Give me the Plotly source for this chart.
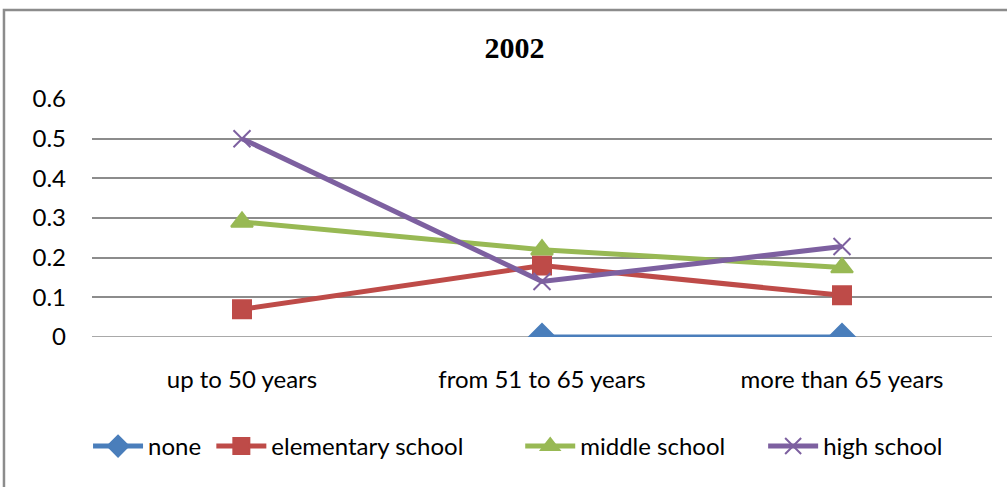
import plotly.graph_objects as go

categories = ["up to 50 years", "from 51 to 65 years", "more than 65 years"]
none_vals = [None, 0.0, 0.0]
elementary_vals = [0.07, 0.18, 0.105]
middle_vals = [0.29, 0.22, 0.175]
high_vals = [0.5, 0.14, 0.228]
y_ticks = [0, 0.1, 0.2, 0.3, 0.4, 0.5, 0.6]
y_tick_labels = ["0", "0.1", "0.2", "0.3", "0.4", "0.5", "0.6"]

# name, values, colour, marker symbol, marker size, legend id, legend x (paper)
series = [
    ("none", none_vals, "#4A7EBB", "diamond", 20, "legend", -0.0044),
    ("elementary school", elementary_vals, "#BE4B48", "square", 18, "legend2", 0.1326),
    ("middle school", middle_vals, "#98B954", "triangle-up", 19, "legend3", 0.4758),
    ("high school", high_vals, "#7D60A0", "x-thin-open", 17, "legend4", 0.7457),
]

font_main = "Lato, 'Open Sans', sans-serif"

fig = go.Figure()
legends = {}
for name, vals, color, symbol, size, leg, lx in series:
    fig.add_trace(go.Scatter(
        x=categories, y=vals, name=name, mode="lines+markers",
        line=dict(color=color, width=5),
        marker=dict(symbol=symbol, size=size, color=color,
                    line=dict(color=color, width=2)),
        connectgaps=False, legend=leg,
    ))
    legends[leg] = dict(orientation="h", x=lx, xanchor="left", y=-0.46, yanchor="middle",
                        font=dict(family=font_main, size=24, color="black"),
                        itemwidth=50, bgcolor="rgba(0,0,0,0)")

fig.update_layout(
    width=1007, height=487,
    margin=dict(l=92, r=15, t=99, b=150, autoexpand=False),
    paper_bgcolor="white", plot_bgcolor="white",
    title=dict(text="<b>2002</b>", x=0.511, xanchor="center", y=0.902, yanchor="middle",
               font=dict(family="'Liberation Serif', 'Times New Roman', serif", size=30, color="black")),
    font=dict(family=font_main, size=24, color="black"),
    showlegend=True,
    xaxis=dict(type="category", range=[-0.5, 2.5], showgrid=False, showline=False,
               zeroline=False, ticks="", ticklabelstandoff=26,
               tickfont=dict(size=24, color="black")),
    yaxis=dict(range=[0, 0.6], tickmode="array", tickvals=y_ticks, ticktext=y_tick_labels,
               showgrid=True, gridcolor="#8C8C8C", gridwidth=1.6, zeroline=False,
               showline=False, ticks="", ticklabelstandoff=25,
               tickfont=dict(size=24, color="black")),
    **legends,
)

# frame around the chart area
fig.add_shape(type="rect", xref="paper", yref="paper",
              x0=-0.0978, x1=1.05, y0=-0.7, y1=1.374,
              line=dict(color="#8C8C8C", width=2.5), fillcolor="rgba(0,0,0,0)", layer="below")
# baseline at zero drawn like the gridlines
fig.add_shape(type="line", xref="paper", yref="y", x0=0, x1=1, y0=0, y1=0,
              line=dict(color="#8C8C8C", width=1.6), layer="below")

fig.write_html("out.html")
